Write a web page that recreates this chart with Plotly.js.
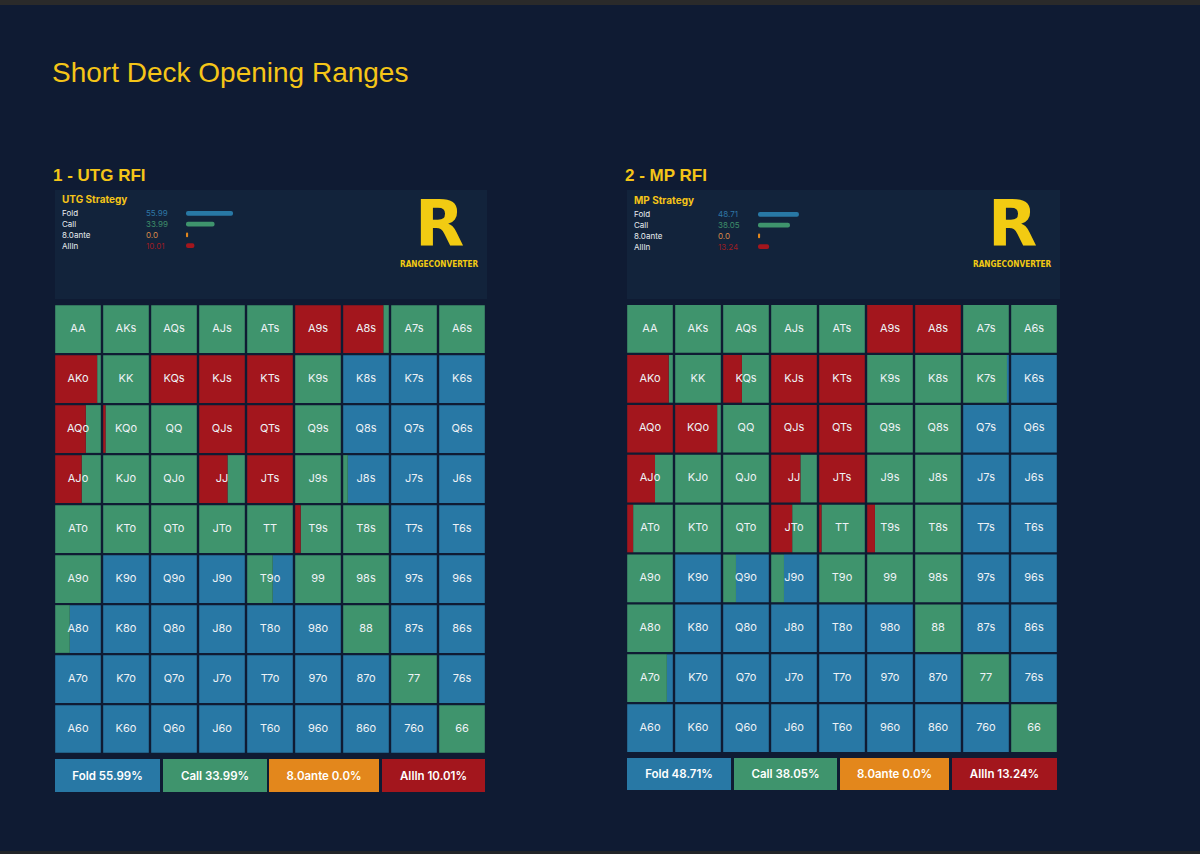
<!DOCTYPE html>
<html><head><meta charset="utf-8">
<script src="https://cdn.plot.ly/plotly-3.0.1.min.js"></script>
<style>html,body{margin:0;padding:0;background:#0f1b33;} #chart{width:1200px;height:854px;}</style>
</head><body><div id="chart"></div>
<script>
const RANKS = ['A','K','Q','J','T','9','8','7','6'];
const ACTIONS = ['Fold','Call','8.0ante','AllIn'];
const utgStrategy = [55.99, 33.99, 0.0, 10.01];
const mpStrategy = [48.71, 38.05, 0.0, 13.24];

// fraction of each hand played all-in (left part of cell)
const utgAllin = [
  [0,0,0,0,0,1,0.88,0,0],
  [0.92,0,1,1,1,0,0,0,0],
  [0.67,0.05,0,1,1,0,0,0,0],
  [0.58,0,0,0.62,1,0,0,0,0],
  [0,0,0,0,0,0.12,0,0,0],
  [0,0,0,0,0,0,0,0,0],
  [0,0,0,0,0,0,0,0,0],
  [0,0,0,0,0,0,0,0,0],
  [0,0,0,0,0,0,0,0,0]
];
// fraction called (middle part); the rest is folded
const utgCall = [
  [1,1,1,1,1,0,0.12,1,1],
  [0.08,1,0,0,0,1,0,0,0],
  [0.33,0.95,1,0,0,1,0,0,0],
  [0.42,1,1,0.38,0,1,0.1,0,0],
  [1,1,1,1,1,0.88,1,0,0],
  [1,0,0,0,0.56,1,1,0,0],
  [0.32,0,0,0,0,0,1,0,0],
  [0,0,0,0,0,0,0,1,0],
  [0,0,0,0,0,0,0,0,1]
];
const mpAllin = [
  [0,0,0,0,0,1,1,0,0],
  [0.91,0,0.41,1,1,0,0,0,0],
  [1,0.92,0,1,1,0,0,0,0],
  [0.61,0,0,0.64,1,0,0,0,0],
  [0.13,0,0,0.46,0.05,0.17,0,0,0],
  [0,0,0,0,0,0,0,0,0],
  [0,0,0,0,0,0,0,0,0],
  [0,0,0,0,0,0,0,0,0],
  [0,0,0,0,0,0,0,0,0]
];
const mpCall = [
  [1,1,1,1,1,0,0,1,1],
  [0.09,1,0.59,0,0,1,1,0.96,0],
  [0,0.08,1,0,0,1,1,0,0],
  [0.39,1,1,0.36,0,1,1,0,0],
  [0.87,1,1,0.54,0.95,0.83,1,0,0],
  [1,0,0.28,0.28,1,1,1,0,0],
  [1,0,0,0,0,0,1,0,0],
  [0.87,0,0,0,0,0,0,1,0],
  [0,0,0,0,0,0,0,0,1]
];

const C_RED = '#a3161d', C_GREEN = '#3f946d', C_BLUE = '#2878a5', C_ORANGE = '#e3871c';
const YELLOW = '#f5c518';
const W = 1200, H = 854;
const PX = p => p / W;
const PY = p => 1 - p / H;

const GAP = 0.05, INNER = 1 - GAP;

function handLabel(r, c) {
  if (r === c) return RANKS[r] + RANKS[c];
  if (r < c) return RANKS[r] + RANKS[c] + 's';
  return RANKS[c] + RANKS[r] + 'o';
}

function gridTraces(allin, call, xa, ya) {
  const segs = {red: {x: [], y: [], b: []}, green: {x: [], y: [], b: []}, blue: {x: [], y: [], b: []}};
  const tx = [], ty = [], tt = [];
  for (let r = 0; r < 9; r++) {
    for (let c = 0; c < 9; c++) {
      const a = allin[r][c], k = call[r][c];
      const f = Math.max(0, 1 - a - k);
      const start = c + GAP / 2;
      segs.red.x.push(a * INNER); segs.red.y.push(r); segs.red.b.push(start);
      segs.green.x.push(k * INNER); segs.green.y.push(r); segs.green.b.push(start + a * INNER);
      segs.blue.x.push(f * INNER); segs.blue.y.push(r); segs.blue.b.push(start + (a + k) * INNER);
      tx.push(c + 0.5); ty.push(r); tt.push(handLabel(r, c));
    }
  }
  const mk = (s, col, name) => ({
    type: 'bar', orientation: 'h', x: s.x, y: s.y, base: s.b, width: 0.955,
    marker: {color: col, line: {width: 0}}, xaxis: xa, yaxis: ya, name: name,
    hoverinfo: 'skip', showlegend: false
  });
  return [
    mk(segs.blue, C_BLUE, 'Fold'),
    mk(segs.green, C_GREEN, 'Call'),
    mk(segs.red, C_RED, 'AllIn'),
    {type: 'scatter', mode: 'text', x: tx, y: ty, text: tt, xaxis: xa, yaxis: ya,
     textfont: {family: 'Inter, Arial, sans-serif', size: 11, color: '#eef2f6'},
     hoverinfo: 'skip', showlegend: false, cliponaxis: false}
  ];
}

function miniBars(vals, xa, ya) {
  return {
    type: 'bar', orientation: 'h', y: [0, 1, 2, 3], x: vals.map(v => Math.max(v, 2.5)), base: 0,
    width: 0.42, marker: {color: [C_BLUE, C_GREEN, C_ORANGE, C_RED], cornerradius: 2, line: {width: 0}},
    xaxis: xa, yaxis: ya, hoverinfo: 'skip', showlegend: false
  };
}

const data = [
  ...gridTraces(utgAllin, utgCall, 'x', 'y'),
  ...gridTraces(mpAllin, mpCall, 'x2', 'y2'),
  miniBars(utgStrategy, 'x3', 'y3'),
  miniBars(mpStrategy, 'x4', 'y4')
];

const hid = {visible: false, fixedrange: true};
const layout = {
  width: W, height: H, margin: {l: 0, r: 0, t: 0, b: 0},
  paper_bgcolor: '#0f1b33', plot_bgcolor: 'rgba(0,0,0,0)',
  barmode: 'overlay', showlegend: false,
  xaxis: {...hid, range: [0, 9], domain: [PX(54), PX(486)]},
  yaxis: {...hid, range: [8.5, -0.5], domain: [PY(754), PY(304)]},
  xaxis2: {...hid, range: [0, 9], domain: [PX(626), PX(1058)]},
  yaxis2: {...hid, range: [8.5, -0.5], domain: [PY(753), PY(304)]},
  xaxis3: {...hid, range: [0, 100], domain: [PX(186), PX(270)]},
  yaxis3: {...hid, range: [3.5, -0.5], domain: [PY(251), PY(208)]},
  xaxis4: {...hid, range: [0, 100], domain: [PX(758), PX(842)]},
  yaxis4: {...hid, range: [3.5, -0.5], domain: [PY(252), PY(209)]},
  shapes: [
    {type: 'rect', xref: 'paper', yref: 'paper', x0: 0, x1: 1, y0: PY(5), y1: 1, fillcolor: '#2a2a2a', line: {width: 0}, layer: 'below'},
    {type: 'rect', xref: 'paper', yref: 'paper', x0: 0, x1: 1, y0: 0, y1: PY(851), fillcolor: '#222428', line: {width: 0}, layer: 'below'},
    {type: 'rect', xref: 'paper', yref: 'paper', x0: PX(55), x1: PX(487), y0: PY(299), y1: PY(190), fillcolor: '#12233b', line: {width: 0}, layer: 'below'},
    {type: 'rect', xref: 'paper', yref: 'paper', x0: PX(627), x1: PX(1060), y0: PY(299), y1: PY(190), fillcolor: '#12233b', line: {width: 0}, layer: 'below'}
  ],
  annotations: []
};

const A = layout.annotations;
const txt = (t, x, y, opts) => A.push(Object.assign({text: t, xref: 'paper', yref: 'paper', x: PX(x), y: PY(y),
  xanchor: 'left', yanchor: 'middle', showarrow: false}, opts));

txt('Short Deck Opening Ranges', 50, 73, {font: {family: 'Liberation Sans, Arial, sans-serif', size: 28, color: YELLOW}});
txt('1 - UTG RFI', 51, 175, {font: {family: 'Liberation Sans, Arial, sans-serif', size: 17, color: YELLOW, weight: 'bold'}});
txt('2 - MP RFI', 623, 175, {font: {family: 'Liberation Sans, Arial, sans-serif', size: 17, color: YELLOW, weight: 'bold'}});

const valColors = ['#2f77a6', '#3f8f6a', '#d88a4a', '#9a1d24'];
function header(title, vals, x0, yref, titleY) {
  txt(title, x0, titleY, {font: {family: 'Inter, Arial, sans-serif', size: 10, color: YELLOW, weight: 'bold'}});
  ACTIONS.forEach((a, i) => {
    A.push({text: a, xref: 'paper', yref: yref, x: PX(x0), y: i, xanchor: 'left', yanchor: 'middle', showarrow: false,
      font: {family: 'Inter, Arial, sans-serif', size: 8, color: '#e8ecf0'}});
    A.push({text: vals[i].toFixed(vals[i] === 0 ? 1 : 2), xref: 'paper', yref: yref, x: PX(x0 + 84), y: i, xanchor: 'left', yanchor: 'middle', showarrow: false,
      font: {family: 'Inter, Arial, sans-serif', size: 8, color: valColors[i]}});
  });
}
header('UTG Strategy', utgStrategy, 60, 'y3', 199);
header('MP Strategy', mpStrategy, 632, 'y4', 200);

function logo(cx) {
  A.push({text: 'R', xref: 'paper', yref: 'paper', x: PX(cx), y: PY(224), xanchor: 'center', yanchor: 'middle', showarrow: false,
    font: {family: 'DejaVu Sans, sans-serif', size: 64, color: '#f2cb12', weight: 'bold'}});
  A.push({text: 'RANGECONVERTER', xref: 'paper', yref: 'paper', x: PX(cx), y: PY(264), xanchor: 'center', yanchor: 'middle', showarrow: false,
    font: {family: 'DejaVu Sans Condensed, sans-serif', size: 8.2, color: '#f2cb12', weight: 'bold'}});
}
logo(439);
logo(1012);

const boxColors = [C_BLUE, C_GREEN, C_ORANGE, C_RED];
function summary(vals, boxes, cy, h) {
  ACTIONS.forEach((a, i) => {
    const [x0, x1] = boxes[i];
    A.push({text: a + ' ' + (vals[i] === 0 ? vals[i].toFixed(1) : vals[i].toFixed(2)) + '%', xref: 'paper', yref: 'paper',
      x: PX((x0 + x1) / 2), y: PY(cy), xanchor: 'center', yanchor: 'middle', showarrow: false,
      width: x1 - x0, height: h, bgcolor: boxColors[i], borderpad: 0, borderwidth: 0,
      font: {family: 'Inter, Arial, sans-serif', size: 11.5, color: '#ffffff', weight: 600}});
  });
}
summary(utgStrategy, [[55, 160], [163, 267], [269, 379], [382, 485]], 775.5, 33);
summary(mpStrategy, [[627, 731], [734, 837], [840, 949], [952, 1057]], 774, 32);

Plotly.newPlot('chart', data, layout, {displayModeBar: false, staticPlot: true});
</script>
</body></html>
